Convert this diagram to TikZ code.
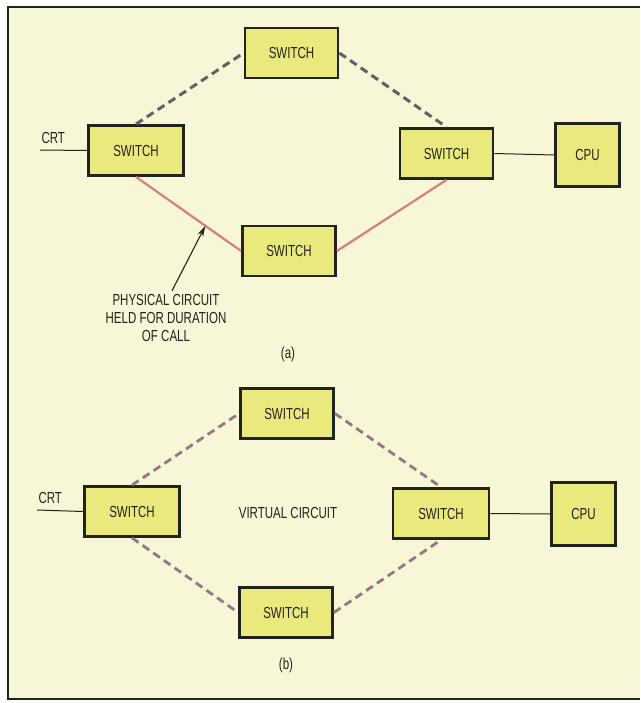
\documentclass[tikz,border=0pt]{standalone}
\usepackage{fontspec}
\setmainfont{Liberation Sans}[FakeStretch=0.72]
\usetikzlibrary{arrows.meta, positioning, calc}

\definecolor{paper}{RGB}{247,246,214}
\definecolor{boxfill}{RGB}{234,233,126}
\definecolor{ink}{RGB}{35,35,30}
\definecolor{dashA}{RGB}{105,92,100}
\definecolor{dashB}{RGB}{150,118,132}
\definecolor{held}{RGB}{212,128,128}

\begin{document}
\begin{tikzpicture}[
        x=1pt, y=-1pt,
        font=\fontsize{16}{18}\selectfont, text=ink,
        box/.style={rectangle, draw=ink, line width=2.8pt, fill=boxfill, minimum width=93pt, minimum height=50pt, align=center},
        cpubox/.style={box, minimum width=64pt, minimum height=63pt},
        wire/.style={draw=ink, line width=1pt},
        altpath/.style={draw=dashA, line width=3pt, dash pattern=on 8pt off 5pt},
        heldpath/.style={draw=held, line width=2.2pt},
        vpath/.style={draw=dashB, line width=2.8pt, dash pattern=on 8pt off 5pt},
        arrow/.style={-{Stealth[length=11pt, width=6pt]}, draw=ink, line width=1.1pt}
    ]

    \useasboundingbox (0,0) rectangle (640,703);
    \fill[white!96!paper] (0,0) rectangle (640,703);
    \fill[paper] (8,7) rectangle (640,699);
    \draw[ink, line width=2pt] (640,7) -- (8,7) -- (8,699) -- (640,699);

    % (a) physical circuit
    \node (topA) [box] at (291.5,53) {SWITCH};
    \node (leftA) [box, minimum width=95pt] at (136,150.5) {SWITCH};
    \node (rightA) [box] at (446.5,153.5) {SWITCH};
    \node (botA) [box] at (289,251) {SWITCH};
    \node (cpuA) [cpubox] at (587.5,155) {CPU};
    \coordinate (crtA) at (40,150);
    \node (crtlabelA) [above right=3pt and -2pt of crtA] {CRT};

    \draw [wire] (crtA) -- (leftA.west);
    \draw [wire] (rightA.east) -- (cpuA.west);
    \draw [altpath] (leftA.north) -- (topA.west);
    \draw [altpath] (topA.east) -- (rightA.north);
    \draw [heldpath] (leftA.south) -- coordinate[pos=0.66] (tip) (botA.west);
    \draw [heldpath] (rightA.south) -- (botA.east);

    \node (note) [align=center] at (166,318) {PHYSICAL CIRCUIT\\HELD FOR DURATION\\OF CALL};
    \draw [arrow] ([xshift=6pt]note.north) -- (tip);
    \node (capA) at (288,354) {(a)};

    % (b) virtual circuit
    \node (topB) [box] at (287,413.5) {SWITCH};
    \node (leftB) [box, minimum width=95pt] at (132,511.5) {SWITCH};
    \node (rightB) [box, minimum width=96pt] at (441,513.5) {SWITCH};
    \node (botB) [box] at (286,612.5) {SWITCH};
    \node (cpuB) [cpubox] at (583.5,514) {CPU};
    \coordinate (crtB) at (37,510);
    \node (crtlabelB) [above right=3pt and -2pt of crtB] {CRT};
    \node (virtual) at (288,513) {VIRTUAL CIRCUIT};

    \draw [wire] (crtB) -- (leftB.west);
    \draw [wire] (rightB.east) -- (cpuB.west);
    \draw [vpath] (leftB.north) -- (topB.west);
    \draw [vpath] (topB.east) -- (rightB.north);
    \draw [vpath] (leftB.south) -- (botB.west);
    \draw [vpath] (botB.east) -- (rightB.south);

    \node (capB) at (286,665) {(b)};

\end{tikzpicture}
\end{document}
